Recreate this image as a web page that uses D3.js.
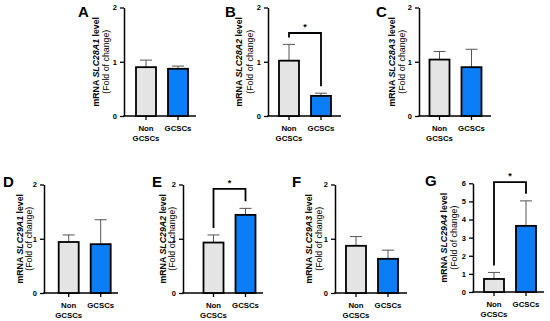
<!DOCTYPE html>
<meta charset="utf-8">
<script src="https://d3js.org/d3.v7.min.js"></script>
<style>
body { margin: 0; background: #fff; }
text { font-family: "Liberation Sans", Arial, sans-serif; }
</style>
<div id="my_dataviz"></div>
<script>

// data (mean and upper SD for each gene)
var genes = ["SLC28A1", "SLC28A2", "SLC28A3", "SLC29A1", "SLC29A2", "SLC29A3", "SLC29A4"];
var letters = ["A", "B", "C", "D", "E", "F", "G"];
var groups = ["Non GCSCs", "GCSCs"];
var nonMean = [0.90, 1.02, 1.04, 0.94, 0.93, 0.87, 0.72];
var nonSD = [0.13, 0.30, 0.15, 0.13, 0.14, 0.17, 0.36];
var gcscMean = [0.87, 0.37, 0.90, 0.90, 1.44, 0.63, 3.65];
var gcscSD = [0.05, 0.05, 0.33, 0.45, 0.12, 0.16, 1.38];
var yMax = [2, 2, 2, 2, 2, 2, 6];
var signif = [false, true, false, false, true, false, true];
var bracketAt = [0, 1.53, 0, 0, 1.92, 0, 6.06];

// where each panel sits on the page
var layout = [
  {ax: 124, gap: 12, end: 196, y0: 116, top: 7.5, lx: 78, ly: 17, t1: -28, t2: -18},
  {ax: 268, gap: 11, end: 341, y0: 116, top: 7.5, lx: 225, ly: 17, t1: -28.7, t2: -18},
  {ax: 419, gap: 10.5, end: 491, y0: 116, top: 7.5, lx: 376, ly: 17, t1: -27.3, t2: -17.3},
  {ax: 44, gap: 14.7, end: 118, y0: 293, top: 184.5, lx: 3, ly: 187, t1: -24, t2: -15},
  {ax: 183, gap: 20.5, end: 263, y0: 293, top: 184.5, lx: 152, ly: 187, t1: -20, t2: -11.5},
  {ax: 335, gap: 11, end: 407, y0: 293, top: 184.5, lx: 292, ly: 187, t1: -25.7, t2: -15.7},
  {ax: 473, gap: 11, end: 544, y0: 292, top: 183.3, lx: 425, ly: 186, t1: -29, t2: -19}
];

var colors = ["#e4e4e4", "#0b7df6"];

var svg = d3.select("#my_dataviz")
  .append("svg")
    .attr("width", 550)
    .attr("height", 321);

genes.forEach(function(gene, i) {
  var L = layout[i];
  var g = svg.append("g");

  var y = d3.scaleLinear()
    .domain([0, yMax[i]])
    .range([L.y0, L.top]);

  var x = d3.scaleBand()
    .domain(groups)
    .range([L.ax + L.gap, L.ax + L.gap + 52])
    .paddingInner(0.375)
    .paddingOuter(0);

  var vals = [
    {grp: groups[0], m: nonMean[i], sd: nonSD[i], c: colors[0]},
    {grp: groups[1], m: gcscMean[i], sd: gcscSD[i], c: colors[1]}
  ];

  // y axis
  var yAxis = g.append("g")
    .attr("transform", "translate(" + L.ax + ",0)")
    .call(d3.axisLeft(y).tickValues(d3.range(0, yMax[i] + 1)).tickFormat(d3.format("d")).tickSize(4).tickSizeOuter(0).tickPadding(3));
  yAxis.select(".domain").attr("stroke-width", 1.5);
  yAxis.selectAll(".tick line").attr("stroke-width", 1.3);
  yAxis.selectAll(".tick text")
    .style("font-size", "7.5px")
    .style("font-weight", "bold")
    .style("font-family", "'Liberation Sans', Arial, sans-serif")
    .attr("fill", "#000");

  // x axis
  var xAxis = g.append("g")
    .attr("transform", "translate(0," + L.y0 + ")")
    .call(d3.axisBottom(x).tickSize(4).tickFormat(""));
  xAxis.select(".domain").remove();
  xAxis.selectAll(".tick line").attr("stroke-width", 1.3);
  g.append("line")
    .attr("x1", L.ax - 0.75).attr("x2", L.end)
    .attr("y1", L.y0).attr("y2", L.y0)
    .attr("stroke", "#000")
    .attr("stroke-width", 1.5);

  // category labels
  groups.forEach(function(grp) {
    var words = grp.split(" ");
    var t = g.append("text")
      .attr("text-anchor", "middle")
      .style("font-size", "7.8px")
      .style("font-weight", "bold")
      .attr("x", x(grp) + x.bandwidth() / 2)
      .attr("y", L.y0 + 15);
    words.forEach(function(w, k) {
      t.append("tspan")
        .attr("x", x(grp) + x.bandwidth() / 2)
        .attr("dy", k === 0 ? 0 : 10)
        .text(w);
    });
  });

  // error bars (upper only)
  var err = g.selectAll(".err").data(vals).enter().append("g");
  err.append("line")
    .attr("x1", function(d) { return x(d.grp) + x.bandwidth() / 2; })
    .attr("x2", function(d) { return x(d.grp) + x.bandwidth() / 2; })
    .attr("y1", function(d) { return y(d.m); })
    .attr("y2", function(d) { return y(d.m + d.sd); })
    .attr("stroke", "#555")
    .attr("stroke-width", 1);
  err.append("line")
    .attr("x1", function(d) { return x(d.grp) + x.bandwidth() / 2 - 6; })
    .attr("x2", function(d) { return x(d.grp) + x.bandwidth() / 2 + 6; })
    .attr("y1", function(d) { return y(d.m + d.sd); })
    .attr("y2", function(d) { return y(d.m + d.sd); })
    .attr("stroke", "#555")
    .attr("stroke-width", 1);

  // bars
  g.selectAll(".bar").data(vals).enter().append("rect")
    .attr("x", function(d) { return x(d.grp); })
    .attr("y", function(d) { return y(d.m); })
    .attr("width", x.bandwidth())
    .attr("height", function(d) { return L.y0 - y(d.m); })
    .attr("fill", function(d) { return d.c; })
    .attr("stroke", "#000")
    .attr("stroke-width", 1.8);

  // significance bracket
  if (signif[i]) {
    var xa = x(groups[0]) + x.bandwidth() / 2,
        xb = x(groups[1]) + x.bandwidth() / 2,
        yt = y(bracketAt[i]);
    var ya = y(vals[0].m + vals[0].sd) - 7,
        yb = y(vals[1].m + vals[1].sd) - 7;
    g.append("path")
      .attr("d", "M" + xa + "," + ya + "V" + yt + "H" + xb + "V" + yb)
      .attr("fill", "none")
      .attr("stroke", "#000")
      .attr("stroke-width", 1.8);
    g.append("text")
      .attr("x", (xa + xb) / 2)
      .attr("y", yt - 3)
      .attr("text-anchor", "middle")
      .style("font-size", "9px")
      .style("font-weight", "bold")
      .text("*");
  }

  // y axis title
  var midY = (L.y0 + L.top) / 2;
  var t1 = g.append("text")
    .attr("transform", "translate(" + (L.ax + L.t1 + 3) + "," + midY + ") rotate(-90)")
    .attr("text-anchor", "middle")
    .style("font-size", "8.8px")
    .style("font-weight", "bold");
  t1.append("tspan").text("mRNA ");
  t1.append("tspan").style("font-style", "italic").text(gene);
  t1.append("tspan").text(" level");
  g.append("text")
    .attr("transform", "translate(" + (L.ax + L.t2 + 3) + "," + midY + ") rotate(-90)")
    .attr("text-anchor", "middle")
    .style("font-size", "8.8px")
    .text("(Fold of change)");

  // panel letter
  g.append("text")
    .attr("x", L.lx)
    .attr("y", L.ly)
    .style("font-size", "15px")
    .style("font-weight", "bold")
    .text(letters[i]);
});

</script>
